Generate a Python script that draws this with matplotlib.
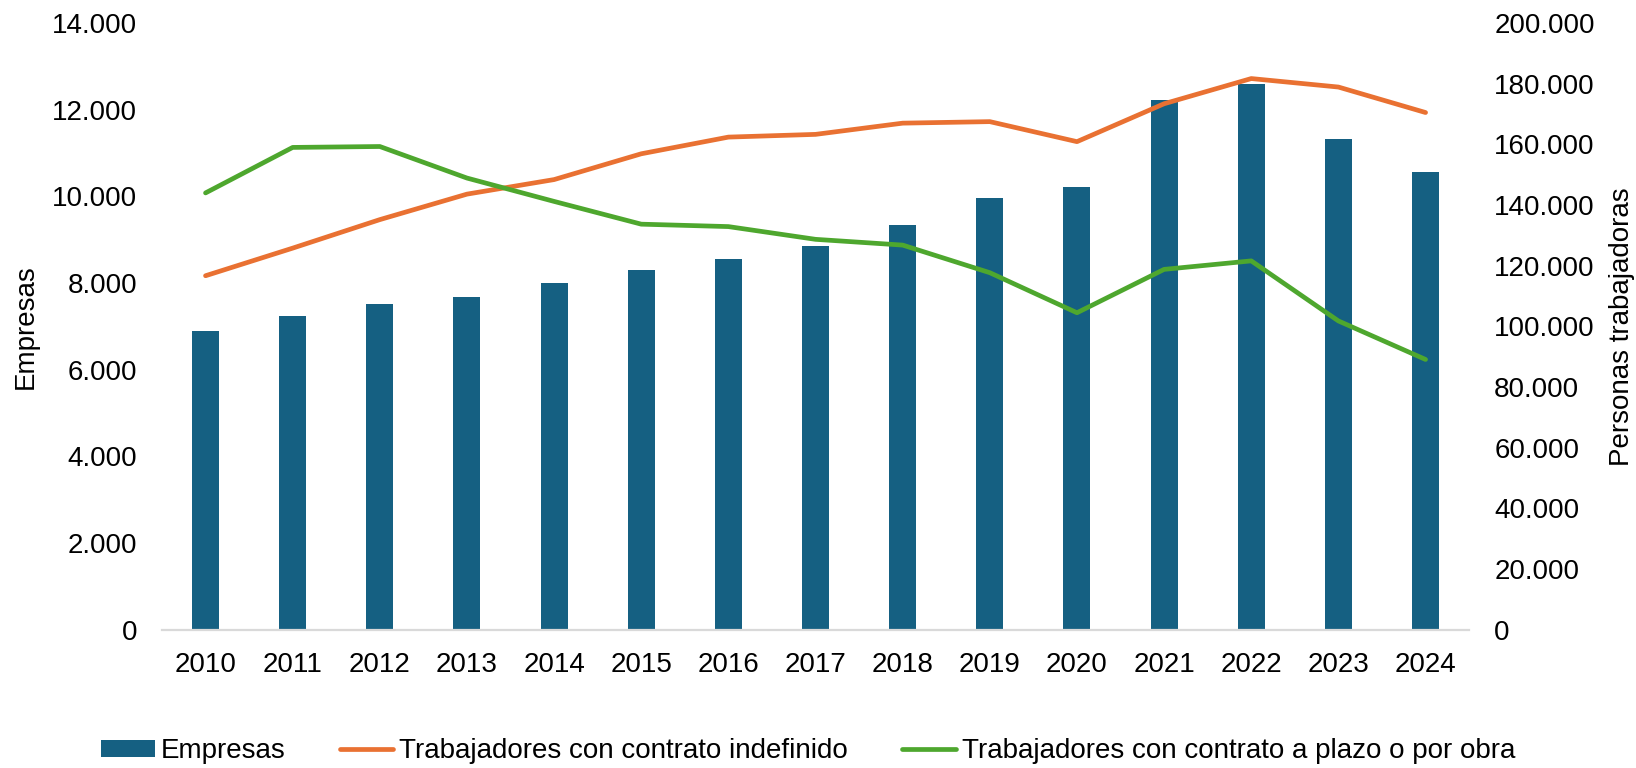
import matplotlib
matplotlib.use("Agg")
import matplotlib.pyplot as plt
from matplotlib.ticker import FuncFormatter, MultipleLocator

plt.rcParams['font.family'] = ['Liberation Sans', 'DejaVu Sans']

years = [str(y) for y in range(2010, 2025)]
empresas = [6890, 7230, 7520, 7680, 7990, 8290, 8550, 8860, 9350,
            9970, 10220, 12230, 12590, 11330, 10560]
indefinido = [116700, 125800, 135200, 143600, 148400, 156900, 162400, 163300,
              167000, 167500, 160900, 173400, 181700, 178900, 170500]
plazo_obra = [144000, 159000, 159300, 148900, 141200, 133700, 132900, 128700,
              126800, 117700, 104500, 118800, 121600, 101800, 89100]

c_bar = '#156082'
c_orange = '#E97132'
c_green = '#4EA72E'
fs = 20


def miles(v, pos):
    return f"{int(round(v)):,}".replace(",", ".")


fig, ax = plt.subplots(figsize=(16.36, 7.68), dpi=100)
fig.subplots_adjust(left=0.099, right=0.898, bottom=0.18, top=0.97)
ax2 = ax.twinx()

x = list(range(len(years)))
bars = ax.bar(x, empresas, width=0.31, color=c_bar, label='Empresas')
l1, = ax2.plot(x, indefinido, color=c_orange, lw=3.4, solid_capstyle='round',
               solid_joinstyle='round', label='Trabajadores con contrato indefinido')
l2, = ax2.plot(x, plazo_obra, color=c_green, lw=3.4, solid_capstyle='round',
               solid_joinstyle='round',
               label='Trabajadores con contrato a plazo o por obra')

ax.set_xlim(-0.5, len(years) - 0.5)
ax.set_ylim(0, 14000)
ax2.set_ylim(0, 200000)
ax.yaxis.set_major_locator(MultipleLocator(2000))
ax2.yaxis.set_major_locator(MultipleLocator(20000))
ax.yaxis.set_major_formatter(FuncFormatter(miles))
ax2.yaxis.set_major_formatter(FuncFormatter(miles))
ax.set_xticks(x)
ax.set_xticklabels(years)

for a in (ax, ax2):
    for s in ('top', 'left', 'right', 'bottom'):
        a.spines[s].set_visible(False)
ax.spines['bottom'].set_visible(True)
ax.spines['bottom'].set_color('#D9D9D9')
ax.spines['bottom'].set_linewidth(1.6)

ax.tick_params(axis='x', length=0, pad=16, labelsize=fs)
ax.tick_params(axis='y', length=0, pad=18, labelsize=fs)
ax2.tick_params(axis='y', length=0, pad=18, labelsize=fs)

ax.set_ylabel('Empresas', fontsize=fs)
ax.yaxis.set_label_coords(-0.094, 0.5, transform=ax.transAxes)
ax2.set_ylabel('Personas trabajadoras', fontsize=fs, rotation=90)
ax2.yaxis.set_label_coords(1.107, 0.5, transform=ax2.transAxes)

fig.legend(handles=[bars, l1, l2], loc='center', bbox_to_anchor=(0.494, 0.022),
           ncol=3, frameon=False, fontsize=fs, handlelength=1.93,
           handleheight=0.55, handletextpad=0.22, columnspacing=1.95)

fig.savefig('out.png', dpi=100)
